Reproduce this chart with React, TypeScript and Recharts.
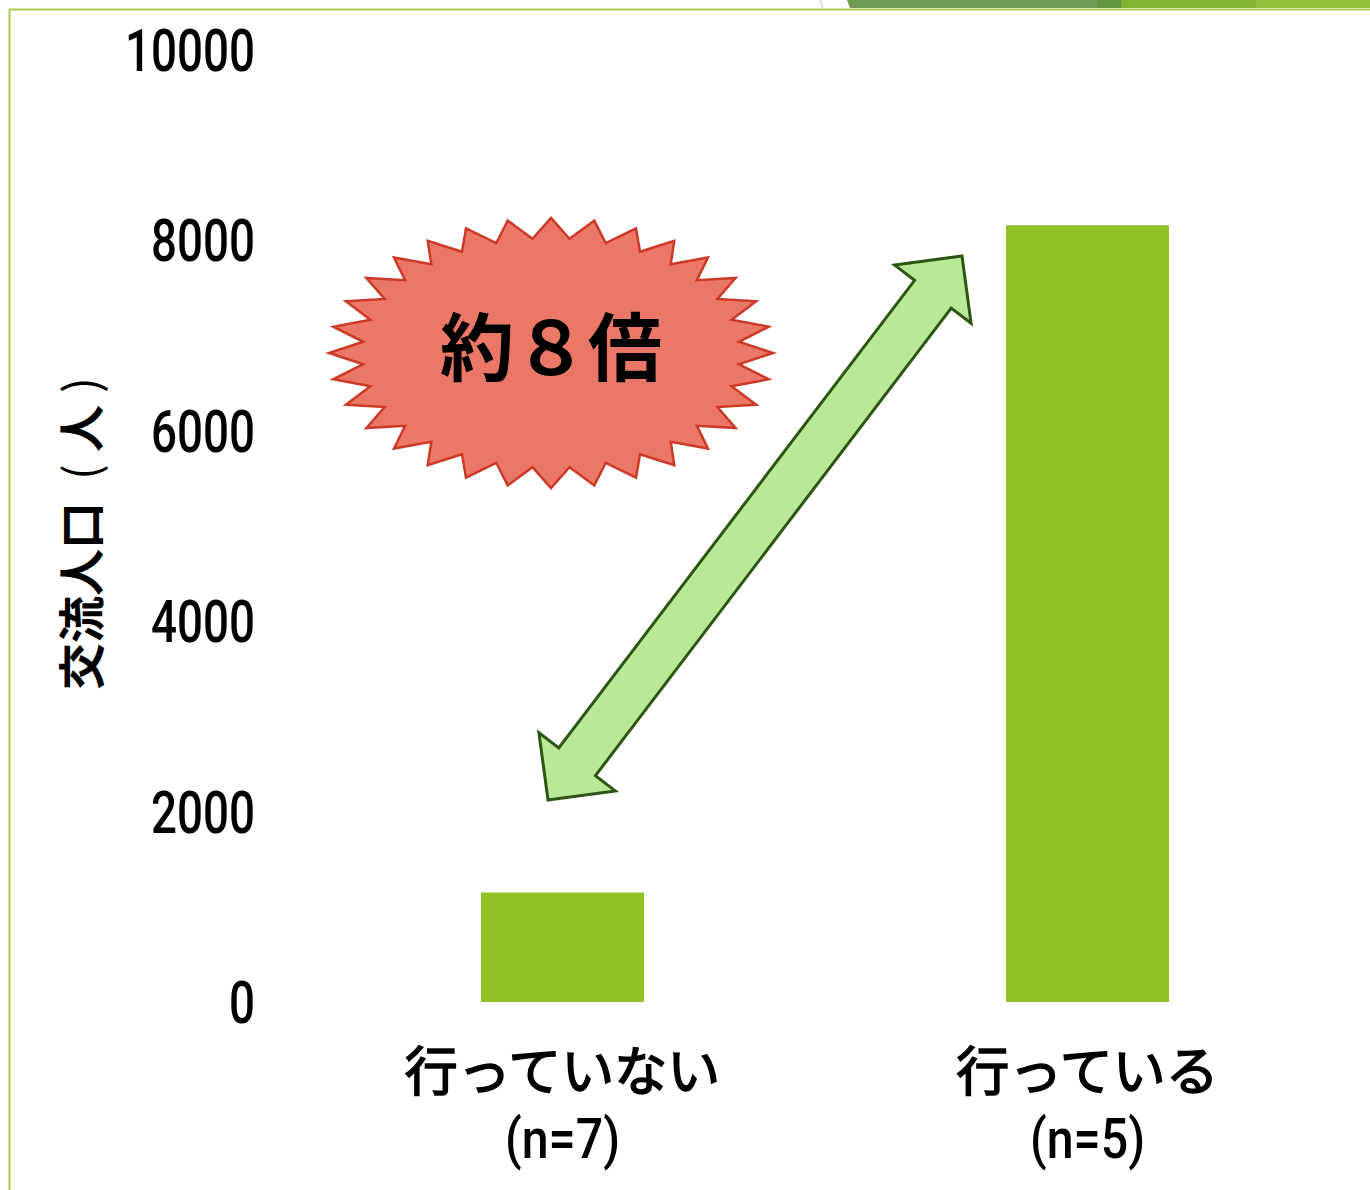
import { BarChart, Bar, XAxis, YAxis } from 'recharts';

// 交流人口 by whether the activity is carried out
const CATEGORIES = ['行っていない', '行っている'];
const SAMPLE_SIZES = ['(n=7)', '(n=5)'];
const POPULATION = [1150, 8160];
const Y_TICKS = [0, 2000, 4000, 6000, 8000, 10000];
const Y_LABEL_MAIN = '交流人口';
const Y_LABEL_UNIT = '人';
const CALLOUT = '約８倍';

const data = CATEGORIES.map((name, i) => ({ name, n: SAMPLE_SIZES[i], value: POPULATION[i] }));

const BAR_GREEN = '#92c027';
const FRAME_GREEN = '#a3cd4e';
const JP_FONT = '"Noto Sans CJK JP", "Noto Sans", sans-serif';
const NUM_FONT = 'Roboto, "Liberation Sans", Arial, sans-serif';

function YTick({ y, payload }: any) {
  const s = String(payload.value);
  return (
    <text
      x={255}
      y={y + 21}
      textAnchor="end"
      fontFamily={NUM_FONT}
      fontWeight={500}
      fontSize={60}
      fill="#000"
      textLength={s.length * 26}
      lengthAdjust="spacingAndGlyphs"
    >
      {s}
    </text>
  );
}

function XTick({ x, payload, index }: any) {
  const n = SAMPLE_SIZES[index] ?? '';
  return (
    <g>
      <text
        x={x}
        y={1091}
        textAnchor="middle"
        fontFamily={JP_FONT}
        fontWeight={400}
        fontSize={53}
        fill="#000"
        stroke="#000"
        strokeWidth={1.6}
      >
        {payload.value}
      </text>
      <text
        x={x}
        y={1158}
        textAnchor="middle"
        fontFamily={NUM_FONT}
        fontWeight={500}
        fontSize={56}
        fill="#000"
        textLength={115}
        lengthAdjust="spacingAndGlyphs"
      >
        {n}
      </text>
    </g>
  );
}

// rotated so that it reads bottom-to-top, starting at y = 690
function YLabel() {
  return (
    <g transform="translate(78 690) rotate(-90)">
      <text x={0} y={0} dominantBaseline="central" fontFamily={JP_FONT} fill="#000" fontSize={47}>
        <tspan fontWeight={700}>{Y_LABEL_MAIN}</tspan>
        <tspan fontWeight={400} dx={22}>(</tspan>
        <tspan fontWeight={700} dx={12}>{Y_LABEL_UNIT}</tspan>
        <tspan fontWeight={400} dx={12}>)</tspan>
      </text>
    </g>
  );
}

// 32-point starburst (like the office "explosion" shape)
function starPoints(cx: number, cy: number, rx: number, ry: number, ratio: number, count: number) {
  const pts: string[] = [];
  for (let i = 0; i < count * 2; i++) {
    const a = (Math.PI * i) / count;
    const k = i % 2 === 0 ? 1 : ratio;
    pts.push(`${(cx + Math.cos(a) * rx * k).toFixed(1)},${(cy - Math.sin(a) * ry * k).toFixed(1)}`);
  }
  return pts.join(' ');
}

// double-headed block arrow between two tips
function arrowPoints(ax: number, ay: number, bx: number, by: number, head: number, headHalf: number, shaftHalf: number) {
  const len = Math.hypot(bx - ax, by - ay);
  const ux = (bx - ax) / len;
  const uy = (by - ay) / len;
  const nx = -uy;
  const ny = ux;
  const p = (bx0: number, by0: number, along: number, side: number) =>
    `${(bx0 + ux * along + nx * side).toFixed(1)},${(by0 + uy * along + ny * side).toFixed(1)}`;
  return [
    `${ax},${ay}`,
    p(ax, ay, head, headHalf),
    p(ax, ay, head, shaftHalf),
    p(bx, by, -head, shaftHalf),
    p(bx, by, -head, headHalf),
    `${bx},${by}`,
    p(bx, by, -head, -headHalf),
    p(bx, by, -head, -shaftHalf),
    p(ax, ay, head, -shaftHalf),
    p(ax, ay, head, -headHalf),
  ].join(' ');
}

export default function App() {
  return (
    <div style={{ position: 'absolute', left: 0, top: 0, width: 1370, height: 1190, background: '#fff' }}>
      <BarChart width={1370} height={1190} data={data} margin={{ top: 50, right: 20, bottom: 0, left: 0 }}>
        <XAxis dataKey="name" axisLine={false} tickLine={false} height={188} tick={<XTick />} interval={0} />
        <YAxis
          domain={[0, 10000]}
          ticks={Y_TICKS}
          axisLine={false}
          tickLine={false}
          width={300}
          tick={<YTick />}
          label={<YLabel />}
        />
        <Bar dataKey="value" fill={BAR_GREEN} barSize={163} isAnimationActive={false} />
      </BarChart>
      <svg width={1370} height={1190} style={{ position: 'absolute', left: 0, top: 0, pointerEvents: 'none' }}>
        {/* slide frame and banner */}
        <polygon points="847,0 1097,0 1097,8 850,8" fill="#6f9b52" />
        <rect x={1097} y={0} width={24} height={8} fill="#64963f" />
        <rect x={1121} y={0} width={135} height={8} fill="#82b42f" />
        <rect x={1256} y={0} width={114} height={8} fill="#94c23c" />
        <line x1={820} y1={0} x2={823} y2={8} stroke="#c8c8c8" strokeWidth={1} />
        <line x1={9} y1={9.5} x2={1370} y2={9.5} stroke={FRAME_GREEN} strokeWidth={2} />
        <line x1={9.5} y1={9} x2={9.5} y2={1190} stroke={FRAME_GREEN} strokeWidth={2} />
        {/* callout */}
        <polygon points={starPoints(551, 353, 222, 135, 0.85, 32)} fill="#eb7866" stroke="#cc3a27" strokeWidth={2.5} />
        <text x={551} y={375} textAnchor="middle" fontFamily={JP_FONT} fontWeight={700} fontSize={74} fill="#000">
          {CALLOUT}
        </text>
        <polygon
          points={arrowPoints(548, 800, 962, 256, 48, 48, 23)}
          fill="#b9e996"
          stroke="#2d5614"
          strokeWidth={3}
          strokeLinejoin="miter"
        />
      </svg>
    </div>
  );
}
